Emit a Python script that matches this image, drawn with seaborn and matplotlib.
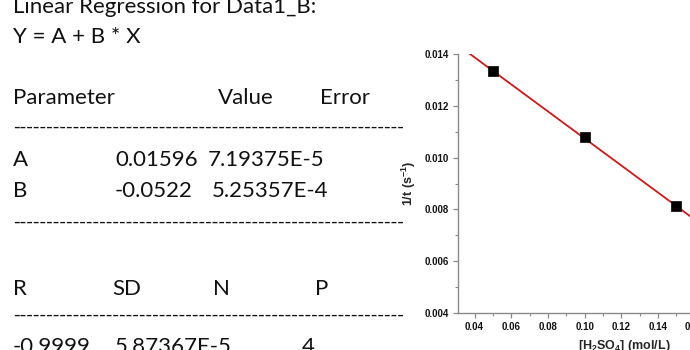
import matplotlib
matplotlib.use("Agg")
import matplotlib.pyplot as plt
import seaborn as sns
import pandas as pd
from matplotlib.ticker import MultipleLocator, FormatStrFormatter

# ---- data ----
conc = [0.05, 0.10, 0.15, 0.20]
inv_t = [0.01333, 0.01080, 0.00813, 0.00552]
fit_x = [0.037, 0.21]
fit_y = [0.01403, 0.00500]

header_lines = ["Linear Regression for Data1_B:", "Y = A + B * X"]
param_header = ["Parameter", "Value", "Error"]
param_names = ["A", "B"]
param_values = ["0.01596", "-0.0522"]
param_errors = ["7.19375E-5", "5.25357E-4"]
stat_header = ["R", "SD", "N", "P"]
stat_values = ["-0.9999", "5.87367E-5", "4"]
x_label = r"[H$_2$SO$_4$] (mol/L)"
y_label = r"1/t (s$^{-1}$)"

# ---- style ----
W, H = 690, 350
sns.set_style("ticks")
plt.rcParams['font.family'] = ['Liberation Sans', 'DejaVu Sans']
plt.rcParams['mathtext.fontset'] = 'custom'
plt.rcParams['mathtext.rm'] = 'Liberation Sans:bold'
plt.rcParams['mathtext.bf'] = 'Liberation Sans:bold'
plt.rcParams['mathtext.default'] = 'bf'

fig = plt.figure(figsize=(W / 100, H / 100), dpi=100)
fig.patch.set_facecolor('white')

# ---- text block ----
TF = ['Lato', 'DejaVu Sans']
TS = 16.0
TC = '#111111'


def ptext(x, baseline, s, family=TF, size=TS):
    fig.text(x / W, 1 - baseline / H, s, fontsize=size, family=family, color=TC,
             ha='left', va='baseline')


def dline(baseline):
    ptext(13, baseline, '-' * 59, family=['Liberation Sans'], size=14.5)


ptext(13, 13, header_lines[0])
ptext(13, 43, header_lines[1])
for xx, s in zip([13, 218, 320], param_header):
    ptext(xx, 104, s)
dline(133)
for base, n, v, e, vx, ex in zip([166, 197], param_names, param_values, param_errors,
                                 [115, 115], [208, 212]):
    ptext(13, base, n)
    ptext(vx, base, v)
    ptext(ex, base, e)
dline(228)
for xx, s in zip([13, 112, 213, 315], stat_header):
    ptext(xx, 295, s)
dline(321)
for xx, s in zip([13, 115, 302], stat_values):
    ptext(xx, 353, s)

# ---- plot ----
ax = fig.add_axes([458 / W, 37 / H, 332 / W, 259 / H])
df = pd.DataFrame({'x': conc, 'y': inv_t})
fitdf = pd.DataFrame({'x': fit_x, 'y': fit_y})
sns.lineplot(data=fitdf, x='x', y='y', ax=ax, color='#d01818', lw=1.3, zorder=2)
sns.scatterplot(data=df, x='x', y='y', ax=ax, marker='s', s=44, color='black',
                edgecolor='black', linewidth=0.5, zorder=3)
ax.set_xlim(0.031, 0.212)
ax.set_ylim(0.004, 0.014)
ax.xaxis.set_major_locator(MultipleLocator(0.02))
ax.xaxis.set_minor_locator(MultipleLocator(0.01))
ax.yaxis.set_major_locator(MultipleLocator(0.002))
ax.yaxis.set_minor_locator(MultipleLocator(0.001))
ax.xaxis.set_major_formatter(FormatStrFormatter('%.2f'))
ax.yaxis.set_major_formatter(FormatStrFormatter('%.3f'))
for sp in ['top', 'right']:
    ax.spines[sp].set_visible(False)
for sp in ['left', 'bottom']:
    ax.spines[sp].set_color('#8a8a8a')
    ax.spines[sp].set_linewidth(1.0)
ax.tick_params(which='major', direction='out', length=3.5, width=0.9, color='#8a8a8a',
               labelsize=7, labelcolor='#111111', pad=3)
ax.tick_params(which='minor', direction='out', length=2, width=0.8, color='#8a8a8a')
for lab in ax.get_xticklabels() + ax.get_yticklabels():
    lab.set_fontweight('bold')
ax.set_xlabel(x_label, fontsize=9, fontweight='bold', labelpad=4)
ax.set_ylabel(y_label, fontsize=9, fontweight='bold', labelpad=5)
ax.set_facecolor('white')

fig.savefig('out.png', dpi=100, facecolor='white')
